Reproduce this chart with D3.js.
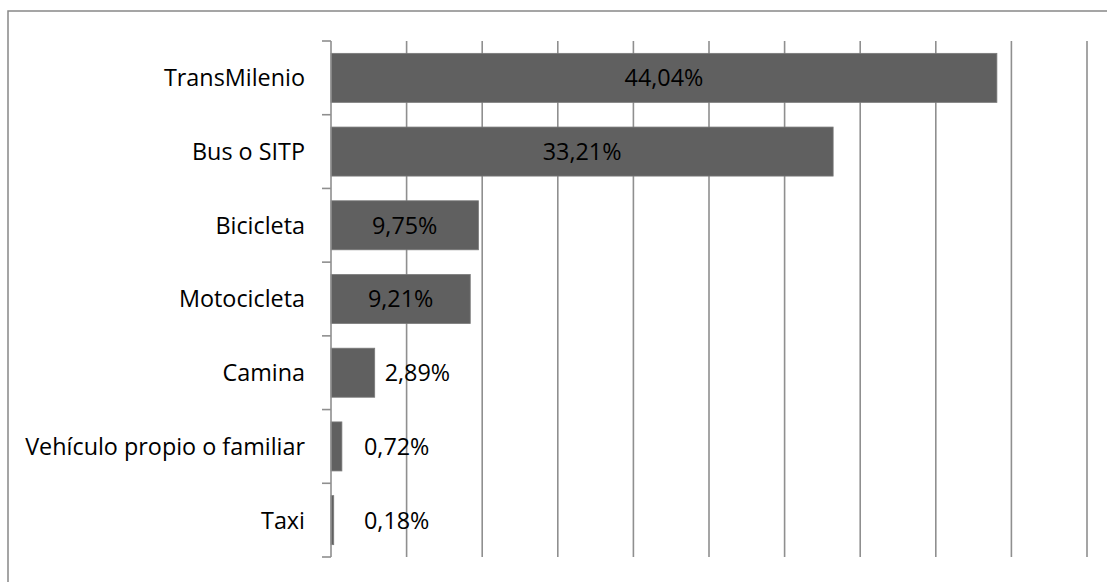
<!DOCTYPE html>
<html><head><meta charset="utf-8">
<script src="https://cdn.jsdelivr.net/npm/d3@7"></script>
<style>body{margin:0;background:#fff}svg{display:block}</style>
</head><body>
<script>
const categories = ["TransMilenio","Bus o SITP","Bicicleta","Motocicleta","Camina","Vehículo propio o familiar","Taxi"];
const values = [44.04,33.21,9.75,9.21,2.89,0.72,0.18];
const labels = ["44,04%","33,21%","9,75%","9,21%","2,89%","0,72%","0,18%"];
const xTicks = [0,5,10,15,20,25,30,35,40,45,50];

const W=1107,H=582;
const svg=d3.select("body").append("svg").attr("width",W).attr("height",H);
const font="'Open Sans', sans-serif";

// fit font size so the longest category label spans the reference width
const probe=svg.append("text").attr("font-family",font).attr("font-size",20).text(categories[5]);
const pw=probe.node().getComputedTextLength(); probe.remove();
const fs=20*280/pw;

// outer chart border
svg.append("rect").attr("x",8).attr("y",11).attr("width",1120).attr("height",600)
  .attr("fill","none").attr("stroke","#888").attr("stroke-width",1.5);

const x=d3.scaleLinear().domain([0,50]).range([331,1087]);
const y=d3.scaleBand().domain(categories).range([41,557]).paddingInner(0.335).paddingOuter(0.1675);

// gridlines
svg.append("g").selectAll("line").data(xTicks.slice(1)).join("line")
  .attr("x1",d=>x(d)).attr("x2",d=>x(d)).attr("y1",41).attr("y2",557)
  .attr("stroke","#8f8f8f").attr("stroke-width",1.6);

// bars
svg.append("g").selectAll("rect").data(values).join("rect")
  .attr("x",x(0)).attr("y",(d,i)=>y(categories[i]))
  .attr("width",d=>x(d)-x(0)).attr("height",y.bandwidth())
  .attr("fill","#606060").attr("stroke","#7a7a7a").attr("stroke-width",0.8);

// y axis
const step=y.step();
const ax=svg.append("g");
ax.append("line").attr("x1",x(0)).attr("x2",x(0)).attr("y1",41).attr("y2",557)
  .attr("stroke","#8f8f8f").attr("stroke-width",1.6);
ax.selectAll("line.t").data(d3.range(categories.length+1)).join("line").attr("class","t")
  .attr("x1",x(0)-9).attr("x2",x(0)).attr("y1",i=>41+i*step).attr("y2",i=>41+i*step)
  .attr("stroke","#8f8f8f").attr("stroke-width",1.6);
ax.selectAll("text").data(categories).join("text")
  .attr("x",305).attr("y",d=>y(d)+y.bandwidth()/2).attr("dy","0.36em")
  .attr("text-anchor","end").attr("font-family",font).attr("font-size",fs).attr("fill","#000")
  .text(d=>d);

// data labels
svg.append("g").selectAll("text").data(values).join("text")
  .each(function(d,i){
    const t=d3.select(this);
    const end=x(d), w=end-x(0);
    t.attr("y",y(categories[i])+y.bandwidth()/2).attr("dy","0.36em")
     .attr("font-family",font).attr("font-size",fs).attr("fill","#000").text(labels[i]);
    if(w>80){ t.attr("x",x(0)+w/2).attr("text-anchor","middle"); }
    else { t.attr("x",Math.max(end+10,x(0)+33)).attr("text-anchor","start"); }
  });
</script>
</body></html>
